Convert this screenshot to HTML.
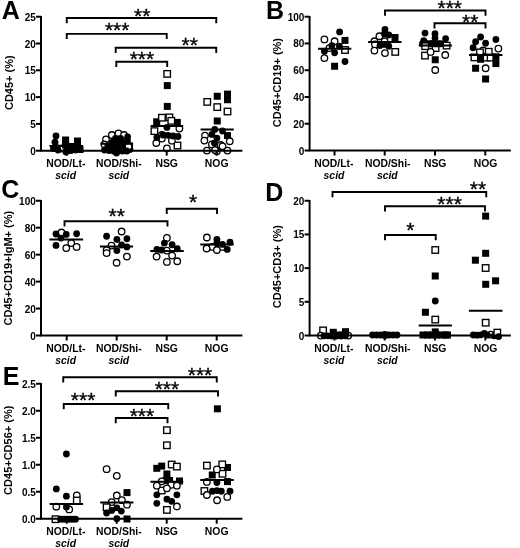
<!DOCTYPE html>
<html><head><meta charset="utf-8"><title>Figure</title>
<style>
html,body{margin:0;padding:0;background:#fff;}
svg{display:block;font-family:"Liberation Sans", Arial, sans-serif;fill:#000;will-change:transform;}
</style></head><body>
<svg width="520" height="548" viewBox="0 0 520 548">
<rect width="520" height="548" fill="#fff"/>
<text x="1.8" y="19.3" font-size="25" font-weight="700">A</text>
<path d="M36.0 150.70H41.0" stroke="#000" stroke-width="2.0"/>
<text x="35.80" y="154.70" font-size="10" font-weight="700" text-anchor="end">0</text>
<path d="M36.0 123.90H41.0" stroke="#000" stroke-width="2.0"/>
<text x="35.80" y="127.90" font-size="10" font-weight="700" text-anchor="end">5</text>
<path d="M36.0 97.10H41.0" stroke="#000" stroke-width="2.0"/>
<text x="35.80" y="101.10" font-size="10" font-weight="700" text-anchor="end">10</text>
<path d="M36.0 70.30H41.0" stroke="#000" stroke-width="2.0"/>
<text x="35.80" y="74.30" font-size="10" font-weight="700" text-anchor="end">15</text>
<path d="M36.0 43.50H41.0" stroke="#000" stroke-width="2.0"/>
<text x="35.80" y="47.50" font-size="10" font-weight="700" text-anchor="end">20</text>
<path d="M36.0 16.70H41.0" stroke="#000" stroke-width="2.0"/>
<text x="35.80" y="20.70" font-size="10" font-weight="700" text-anchor="end">25</text>
<text x="65.80" y="167.2" font-size="10.4" font-weight="700" text-anchor="middle">NOD/Lt-</text>
<text x="65.60" y="179.39999999999998" font-size="10.4" font-weight="700" font-style="italic" text-anchor="middle">scid</text>
<text x="118.80" y="167.2" font-size="10.4" font-weight="700" text-anchor="middle">NOD/Shi-</text>
<text x="118.80" y="179.39999999999998" font-size="10.4" font-weight="700" font-style="italic" text-anchor="middle">scid</text>
<text x="166.70" y="167.2" font-size="10.4" font-weight="700" text-anchor="middle">NSG</text>
<text x="216.70" y="167.2" font-size="10.4" font-weight="700" text-anchor="middle">NOG</text>
<text transform="translate(12.5 82.69999999999999) rotate(-90)" font-size="11" font-weight="700" text-anchor="middle">CD45+ (%)</text>
<path d="M66.75 23.2V18H216.25V23.2" fill="none" stroke="#000" stroke-width="1.9"/>
<text x="142.2" y="23.05" font-size="21" stroke="#000" stroke-width="0.35" text-anchor="middle">**</text>
<path d="M66.75 39.050000000000004V33.85H166.7V39.050000000000004" fill="none" stroke="#000" stroke-width="1.9"/>
<text x="117.2" y="37.15" font-size="21" stroke="#000" stroke-width="0.35" text-anchor="middle">***</text>
<path d="M115.7 52.900000000000006V47.7H216.25V52.900000000000006" fill="none" stroke="#000" stroke-width="1.9"/>
<text x="189.75" y="51.55" font-size="21" stroke="#000" stroke-width="0.35" text-anchor="middle">**</text>
<path d="M116.3 66.9V61.7H167.2V66.9" fill="none" stroke="#000" stroke-width="1.9"/>
<text x="141.9" y="66.25" font-size="21" stroke="#000" stroke-width="0.35" text-anchor="middle">***</text>
<text x="266.1" y="19.3" font-size="25" font-weight="700">B</text>
<path d="M304.6 150.50H309.6" stroke="#000" stroke-width="2.0"/>
<text x="304.40" y="154.50" font-size="10" font-weight="700" text-anchor="end">0</text>
<path d="M304.6 123.74H309.6" stroke="#000" stroke-width="2.0"/>
<text x="304.40" y="127.74" font-size="10" font-weight="700" text-anchor="end">20</text>
<path d="M304.6 96.98H309.6" stroke="#000" stroke-width="2.0"/>
<text x="304.40" y="100.98" font-size="10" font-weight="700" text-anchor="end">40</text>
<path d="M304.6 70.22H309.6" stroke="#000" stroke-width="2.0"/>
<text x="304.40" y="74.22" font-size="10" font-weight="700" text-anchor="end">60</text>
<path d="M304.6 43.46H309.6" stroke="#000" stroke-width="2.0"/>
<text x="304.40" y="47.46" font-size="10" font-weight="700" text-anchor="end">80</text>
<path d="M304.6 16.70H309.6" stroke="#000" stroke-width="2.0"/>
<text x="304.40" y="20.70" font-size="10" font-weight="700" text-anchor="end">100</text>
<text x="333.90" y="167.0" font-size="10.4" font-weight="700" text-anchor="middle">NOD/Lt-</text>
<text x="334.00" y="179.2" font-size="10.4" font-weight="700" font-style="italic" text-anchor="middle">scid</text>
<text x="387.70" y="167.0" font-size="10.4" font-weight="700" text-anchor="middle">NOD/Shi-</text>
<text x="387.30" y="179.2" font-size="10.4" font-weight="700" font-style="italic" text-anchor="middle">scid</text>
<text x="435.20" y="167.0" font-size="10.4" font-weight="700" text-anchor="middle">NSG</text>
<text x="485.50" y="167.0" font-size="10.4" font-weight="700" text-anchor="middle">NOG</text>
<text transform="translate(281 82.6) rotate(-90)" font-size="11" font-weight="700" text-anchor="middle">CD45+CD19+ (%)</text>
<path d="M385 15.7V10.5H485.5V15.7" fill="none" stroke="#000" stroke-width="1.9"/>
<text x="449.75" y="15.30" font-size="21" stroke="#000" stroke-width="0.35" text-anchor="middle">***</text>
<path d="M434.5 28.45V23.25H485.5V28.45" fill="none" stroke="#000" stroke-width="1.9"/>
<text x="470.25" y="28.55" font-size="21" stroke="#000" stroke-width="0.35" text-anchor="middle">**</text>
<text x="1.2" y="198.0" font-size="25" font-weight="700">C</text>
<path d="M36.0 335.50H41.0" stroke="#000" stroke-width="2.0"/>
<text x="35.80" y="339.50" font-size="10" font-weight="700" text-anchor="end">0</text>
<path d="M36.0 308.55H41.0" stroke="#000" stroke-width="2.0"/>
<text x="35.80" y="312.55" font-size="10" font-weight="700" text-anchor="end">20</text>
<path d="M36.0 281.60H41.0" stroke="#000" stroke-width="2.0"/>
<text x="35.80" y="285.60" font-size="10" font-weight="700" text-anchor="end">40</text>
<path d="M36.0 254.65H41.0" stroke="#000" stroke-width="2.0"/>
<text x="35.80" y="258.65" font-size="10" font-weight="700" text-anchor="end">60</text>
<path d="M36.0 227.70H41.0" stroke="#000" stroke-width="2.0"/>
<text x="35.80" y="231.70" font-size="10" font-weight="700" text-anchor="end">80</text>
<path d="M36.0 200.75H41.0" stroke="#000" stroke-width="2.0"/>
<text x="35.80" y="204.75" font-size="10" font-weight="700" text-anchor="end">100</text>
<text x="65.80" y="352.0" font-size="10.4" font-weight="700" text-anchor="middle">NOD/Lt-</text>
<text x="65.60" y="364.2" font-size="10.4" font-weight="700" font-style="italic" text-anchor="middle">scid</text>
<text x="118.80" y="352.0" font-size="10.4" font-weight="700" text-anchor="middle">NOD/Shi-</text>
<text x="118.80" y="364.2" font-size="10.4" font-weight="700" font-style="italic" text-anchor="middle">scid</text>
<text x="166.70" y="352.0" font-size="10.4" font-weight="700" text-anchor="middle">NSG</text>
<text x="216.70" y="352.0" font-size="10.4" font-weight="700" text-anchor="middle">NOG</text>
<text transform="translate(11.5 268.125) rotate(-90)" font-size="11" font-weight="700" text-anchor="middle">CD45+CD19+IgM+ (%)</text>
<path d="M64.5 226.45V221.25H167.5V226.45" fill="none" stroke="#000" stroke-width="1.9"/>
<text x="116.75" y="223.40" font-size="21" stroke="#000" stroke-width="0.35" text-anchor="middle">**</text>
<path d="M166.75 213.95V208.75H217V213.95" fill="none" stroke="#000" stroke-width="1.9"/>
<text x="193.1" y="209.05" font-size="21" stroke="#000" stroke-width="0.35" text-anchor="middle">*</text>
<text x="265.3" y="201" font-size="25" font-weight="700">D</text>
<path d="M304.6 335.50H309.6" stroke="#000" stroke-width="2.0"/>
<text x="304.40" y="339.50" font-size="10" font-weight="700" text-anchor="end">0</text>
<path d="M304.6 301.81H309.6" stroke="#000" stroke-width="2.0"/>
<text x="304.40" y="305.81" font-size="10" font-weight="700" text-anchor="end">5</text>
<path d="M304.6 268.12H309.6" stroke="#000" stroke-width="2.0"/>
<text x="304.40" y="272.12" font-size="10" font-weight="700" text-anchor="end">10</text>
<path d="M304.6 234.44H309.6" stroke="#000" stroke-width="2.0"/>
<text x="304.40" y="238.44" font-size="10" font-weight="700" text-anchor="end">15</text>
<path d="M304.6 200.75H309.6" stroke="#000" stroke-width="2.0"/>
<text x="304.40" y="204.75" font-size="10" font-weight="700" text-anchor="end">20</text>
<text x="333.90" y="352.0" font-size="10.4" font-weight="700" text-anchor="middle">NOD/Lt-</text>
<text x="334.00" y="364.2" font-size="10.4" font-weight="700" font-style="italic" text-anchor="middle">scid</text>
<text x="387.70" y="352.0" font-size="10.4" font-weight="700" text-anchor="middle">NOD/Shi-</text>
<text x="387.30" y="364.2" font-size="10.4" font-weight="700" font-style="italic" text-anchor="middle">scid</text>
<text x="435.20" y="352.0" font-size="10.4" font-weight="700" text-anchor="middle">NSG</text>
<text x="485.50" y="352.0" font-size="10.4" font-weight="700" text-anchor="middle">NOG</text>
<text transform="translate(280.7 266.625) rotate(-90)" font-size="11" font-weight="700" text-anchor="middle">CD45+CD3+ (%)</text>
<path d="M332.5 197.2V192H486.25V197.2" fill="none" stroke="#000" stroke-width="1.9"/>
<text x="477.9" y="196.20" font-size="21" stroke="#000" stroke-width="0.35" text-anchor="middle">**</text>
<path d="M385 211.45V206.25H485V211.45" fill="none" stroke="#000" stroke-width="1.9"/>
<text x="449.6" y="210.55" font-size="21" stroke="#000" stroke-width="0.35" text-anchor="middle">***</text>
<path d="M385 240.2V235H435.75V240.2" fill="none" stroke="#000" stroke-width="1.9"/>
<text x="410.25" y="237.20" font-size="21" stroke="#000" stroke-width="0.35" text-anchor="middle">*</text>
<text x="2.7" y="385" font-size="25" font-weight="700">E</text>
<path d="M36.0 518.75H41.0" stroke="#000" stroke-width="2.0"/>
<text x="35.80" y="522.75" font-size="10" font-weight="700" text-anchor="end">0.0</text>
<path d="M36.0 491.75H41.0" stroke="#000" stroke-width="2.0"/>
<text x="35.80" y="495.75" font-size="10" font-weight="700" text-anchor="end">0.5</text>
<path d="M36.0 464.75H41.0" stroke="#000" stroke-width="2.0"/>
<text x="35.80" y="468.75" font-size="10" font-weight="700" text-anchor="end">1.0</text>
<path d="M36.0 437.75H41.0" stroke="#000" stroke-width="2.0"/>
<text x="35.80" y="441.75" font-size="10" font-weight="700" text-anchor="end">1.5</text>
<path d="M36.0 410.75H41.0" stroke="#000" stroke-width="2.0"/>
<text x="35.80" y="414.75" font-size="10" font-weight="700" text-anchor="end">2.0</text>
<path d="M36.0 383.75H41.0" stroke="#000" stroke-width="2.0"/>
<text x="35.80" y="387.75" font-size="10" font-weight="700" text-anchor="end">2.5</text>
<text x="65.80" y="535.25" font-size="10.4" font-weight="700" text-anchor="middle">NOD/Lt-</text>
<text x="65.60" y="547.45" font-size="10.4" font-weight="700" font-style="italic" text-anchor="middle">scid</text>
<text x="118.80" y="535.25" font-size="10.4" font-weight="700" text-anchor="middle">NOD/Shi-</text>
<text x="118.80" y="547.45" font-size="10.4" font-weight="700" font-style="italic" text-anchor="middle">scid</text>
<text x="166.70" y="535.25" font-size="10.4" font-weight="700" text-anchor="middle">NSG</text>
<text x="216.70" y="535.25" font-size="10.4" font-weight="700" text-anchor="middle">NOG</text>
<text transform="translate(12 450.25) rotate(-90)" font-size="11" font-weight="700" text-anchor="middle">CD45+CD56+ (%)</text>
<path d="M63.25 382.45V377.25H216.75V382.45" fill="none" stroke="#000" stroke-width="1.9"/>
<text x="200" y="382.30" font-size="21" stroke="#000" stroke-width="0.35" text-anchor="middle">***</text>
<path d="M115.75 396.45V391.25H218V396.45" fill="none" stroke="#000" stroke-width="1.9"/>
<text x="166.9" y="396.05" font-size="21" stroke="#000" stroke-width="0.35" text-anchor="middle">***</text>
<path d="M63.75 409.2V404H168.25V409.2" fill="none" stroke="#000" stroke-width="1.9"/>
<text x="83.1" y="406.55" font-size="21" stroke="#000" stroke-width="0.35" text-anchor="middle">***</text>
<path d="M115.75 423.2V418H167.5V423.2" fill="none" stroke="#000" stroke-width="1.9"/>
<text x="141.9" y="422.70" font-size="21" stroke="#000" stroke-width="0.35" text-anchor="middle">***</text>
<circle cx="61.9" cy="148.5" r="3.25" fill="#fff" stroke="#000" stroke-width="1.3"/>
<circle cx="56" cy="136" r="3.4" fill="#000"/>
<circle cx="55" cy="142.2" r="3.4" fill="#000"/>
<circle cx="53.5" cy="148.5" r="3.4" fill="#000"/>
<circle cx="58" cy="150" r="3.4" fill="#000"/>
<circle cx="71" cy="150.5" r="3.4" fill="#000"/>
<circle cx="75.5" cy="150" r="3.4" fill="#000"/>
<rect x="62.10" y="136.50" width="7" height="7" fill="#000"/>
<rect x="62.10" y="141.50" width="7" height="7" fill="#000"/>
<rect x="74.00" y="137.50" width="7" height="7" fill="#000"/>
<rect x="74.00" y="142.50" width="7" height="7" fill="#000"/>
<rect x="63.50" y="147.00" width="7" height="7" fill="#000"/>
<rect x="76.50" y="146.00" width="7" height="7" fill="#000"/>
<rect x="68.00" y="143.00" width="7" height="7" fill="#000"/>
<rect x="52.50" y="144.50" width="7" height="7" fill="#000"/>
<circle cx="66" cy="152" r="3.4" fill="#000"/>
<circle cx="111.9" cy="135" r="3.25" fill="#fff" stroke="#000" stroke-width="1.3"/>
<circle cx="118.5" cy="133.4" r="3.25" fill="#fff" stroke="#000" stroke-width="1.3"/>
<circle cx="124" cy="135" r="3.25" fill="#fff" stroke="#000" stroke-width="1.3"/>
<circle cx="106" cy="139.3" r="3.25" fill="#fff" stroke="#000" stroke-width="1.3"/>
<circle cx="104.5" cy="144.5" r="3.25" fill="#fff" stroke="#000" stroke-width="1.3"/>
<circle cx="115.5" cy="138.5" r="3.4" fill="#000"/>
<circle cx="116.5" cy="141" r="3.4" fill="#000"/>
<circle cx="112" cy="142.5" r="3.4" fill="#000"/>
<circle cx="127.6" cy="136.8" r="3.4" fill="#000"/>
<circle cx="127.5" cy="141" r="3.4" fill="#000"/>
<circle cx="122" cy="142" r="3.4" fill="#000"/>
<circle cx="104.5" cy="150" r="3.4" fill="#000"/>
<circle cx="109" cy="150.5" r="3.4" fill="#000"/>
<circle cx="113.5" cy="151" r="3.4" fill="#000"/>
<circle cx="118" cy="151" r="3.4" fill="#000"/>
<circle cx="122.5" cy="151" r="3.4" fill="#000"/>
<circle cx="127" cy="150.5" r="3.4" fill="#000"/>
<circle cx="130" cy="149.5" r="3.4" fill="#000"/>
<circle cx="120.5" cy="138.5" r="3.4" fill="#000"/>
<rect x="113.00" y="143.00" width="7" height="7" fill="#000"/>
<rect x="104.50" y="143.50" width="7" height="7" fill="#000"/>
<rect x="121.50" y="143.50" width="7" height="7" fill="#000"/>
<rect x="108.50" y="143.50" width="7" height="7" fill="#000"/>
<rect x="117.50" y="143.50" width="7" height="7" fill="#000"/>
<rect x="126.00" y="142.50" width="7" height="7" fill="#000"/>
<circle cx="128.5" cy="146.5" r="3.25" fill="#fff" stroke="#000" stroke-width="1.3"/>
<circle cx="126.8" cy="151" r="3.4" fill="#000"/>
<circle cx="116.5" cy="153" r="3.4" fill="#000"/>
<rect x="163.80" y="82.10" width="7" height="7" fill="#000"/>
<rect x="163.80" y="102.90" width="7" height="7" fill="#000"/>
<rect x="153.20" y="118.30" width="7" height="7" fill="#000"/>
<rect x="173.80" y="118.90" width="7" height="7" fill="#000"/>
<rect x="163.95" y="70.65" width="6.5" height="6.5" fill="#fff" stroke="#000" stroke-width="1.35"/>
<rect x="158.65" y="114.45" width="6.5" height="6.5" fill="#fff" stroke="#000" stroke-width="1.35"/>
<rect x="166.15" y="114.15" width="6.5" height="6.5" fill="#fff" stroke="#000" stroke-width="1.35"/>
<rect x="168.05" y="117.55" width="6.5" height="6.5" fill="#fff" stroke="#000" stroke-width="1.35"/>
<rect x="151.15" y="127.85" width="6.5" height="6.5" fill="#fff" stroke="#000" stroke-width="1.35"/>
<rect x="174.25" y="142.25" width="6.5" height="6.5" fill="#fff" stroke="#000" stroke-width="1.35"/>
<circle cx="179.4" cy="128.6" r="3.25" fill="#fff" stroke="#000" stroke-width="1.3"/>
<circle cx="161.9" cy="134.9" r="3.25" fill="#fff" stroke="#000" stroke-width="1.3"/>
<circle cx="161.9" cy="138.6" r="3.25" fill="#fff" stroke="#000" stroke-width="1.3"/>
<circle cx="156.3" cy="143" r="3.25" fill="#fff" stroke="#000" stroke-width="1.3"/>
<circle cx="171.9" cy="140.7" r="3.25" fill="#fff" stroke="#000" stroke-width="1.3"/>
<circle cx="166.9" cy="148.3" r="3.25" fill="#fff" stroke="#000" stroke-width="1.3"/>
<circle cx="166.9" cy="127.4" r="3.4" fill="#000"/>
<circle cx="163" cy="135" r="3.4" fill="#000"/>
<circle cx="168" cy="135.3" r="3.4" fill="#000"/>
<circle cx="173" cy="136" r="3.4" fill="#000"/>
<circle cx="178" cy="136.5" r="3.4" fill="#000"/>
<circle cx="156.9" cy="137.4" r="3.4" fill="#000"/>
<rect x="213.75" y="92.75" width="7" height="7" fill="#000"/>
<rect x="224.00" y="90.60" width="7" height="7" fill="#000"/>
<rect x="224.00" y="96.25" width="7" height="7" fill="#000"/>
<rect x="213.75" y="117.50" width="7" height="7" fill="#000"/>
<rect x="224.00" y="132.10" width="7" height="7" fill="#000"/>
<rect x="204.00" y="98.65" width="6.5" height="6.5" fill="#fff" stroke="#000" stroke-width="1.35"/>
<rect x="214.00" y="103.85" width="6.5" height="6.5" fill="#fff" stroke="#000" stroke-width="1.35"/>
<rect x="224.25" y="108.25" width="6.5" height="6.5" fill="#fff" stroke="#000" stroke-width="1.35"/>
<circle cx="205" cy="135.6" r="3.25" fill="#fff" stroke="#000" stroke-width="1.3"/>
<circle cx="204.4" cy="140.6" r="3.25" fill="#fff" stroke="#000" stroke-width="1.3"/>
<circle cx="229.75" cy="141.25" r="3.25" fill="#fff" stroke="#000" stroke-width="1.3"/>
<circle cx="211.9" cy="144.4" r="3.25" fill="#fff" stroke="#000" stroke-width="1.3"/>
<circle cx="220.6" cy="145" r="3.25" fill="#fff" stroke="#000" stroke-width="1.3"/>
<circle cx="222.5" cy="146.25" r="3.25" fill="#fff" stroke="#000" stroke-width="1.3"/>
<circle cx="206.9" cy="150.6" r="3.25" fill="#fff" stroke="#000" stroke-width="1.3"/>
<circle cx="216.9" cy="151.25" r="3.25" fill="#fff" stroke="#000" stroke-width="1.3"/>
<circle cx="227.5" cy="150.6" r="3.25" fill="#fff" stroke="#000" stroke-width="1.3"/>
<circle cx="215" cy="150" r="3.25" fill="#fff" stroke="#000" stroke-width="1.3"/>
<circle cx="214.75" cy="129.4" r="3.4" fill="#000"/>
<circle cx="222.5" cy="131" r="3.4" fill="#000"/>
<circle cx="211.9" cy="134.4" r="3.4" fill="#000"/>
<circle cx="216.9" cy="138.1" r="3.4" fill="#000"/>
<circle cx="214.4" cy="143.1" r="3.4" fill="#000"/>
<circle cx="324.4" cy="39.4" r="3.25" fill="#fff" stroke="#000" stroke-width="1.3"/>
<circle cx="334.6" cy="41.25" r="3.25" fill="#fff" stroke="#000" stroke-width="1.3"/>
<circle cx="329.4" cy="48.1" r="3.25" fill="#fff" stroke="#000" stroke-width="1.3"/>
<circle cx="324.4" cy="58.1" r="3.25" fill="#fff" stroke="#000" stroke-width="1.3"/>
<rect x="341.75" y="46.75" width="6.5" height="6.5" fill="#fff" stroke="#000" stroke-width="1.35"/>
<circle cx="339.6" cy="31.9" r="3.4" fill="#000"/>
<circle cx="331.9" cy="45.6" r="3.4" fill="#000"/>
<circle cx="339.4" cy="46.25" r="3.4" fill="#000"/>
<circle cx="324.4" cy="51.25" r="3.4" fill="#000"/>
<circle cx="334.6" cy="52.75" r="3.4" fill="#000"/>
<circle cx="345" cy="61.5" r="3.4" fill="#000"/>
<rect x="341.50" y="36.90" width="7" height="7" fill="#000"/>
<rect x="331.10" y="62.75" width="7" height="7" fill="#000"/>
<circle cx="379.4" cy="36.25" r="3.25" fill="#fff" stroke="#000" stroke-width="1.3"/>
<circle cx="374.4" cy="41.25" r="3.25" fill="#fff" stroke="#000" stroke-width="1.3"/>
<circle cx="384.6" cy="41.25" r="3.25" fill="#fff" stroke="#000" stroke-width="1.3"/>
<circle cx="375" cy="44.4" r="3.25" fill="#fff" stroke="#000" stroke-width="1.3"/>
<circle cx="374.4" cy="50.6" r="3.25" fill="#fff" stroke="#000" stroke-width="1.3"/>
<circle cx="385" cy="53.1" r="3.25" fill="#fff" stroke="#000" stroke-width="1.3"/>
<rect x="392.00" y="48.65" width="6.5" height="6.5" fill="#fff" stroke="#000" stroke-width="1.35"/>
<circle cx="385" cy="29.4" r="3.4" fill="#000"/>
<circle cx="384.4" cy="33.75" r="3.4" fill="#000"/>
<circle cx="388.75" cy="35" r="3.4" fill="#000"/>
<circle cx="380" cy="45.6" r="3.4" fill="#000"/>
<circle cx="388.75" cy="46.25" r="3.4" fill="#000"/>
<circle cx="384.4" cy="44.4" r="3.4" fill="#000"/>
<rect x="391.50" y="34.00" width="7" height="7" fill="#000"/>
<rect x="432.35" y="44.85" width="6.5" height="6.5" fill="#fff" stroke="#000" stroke-width="1.35"/>
<rect x="421.75" y="52.35" width="6.5" height="6.5" fill="#fff" stroke="#000" stroke-width="1.35"/>
<circle cx="430.6" cy="51.9" r="3.25" fill="#fff" stroke="#000" stroke-width="1.3"/>
<circle cx="445.25" cy="55" r="3.25" fill="#fff" stroke="#000" stroke-width="1.3"/>
<circle cx="435.25" cy="70" r="3.25" fill="#fff" stroke="#000" stroke-width="1.3"/>
<circle cx="425" cy="33.1" r="3.4" fill="#000"/>
<circle cx="435" cy="33.75" r="3.4" fill="#000"/>
<circle cx="435" cy="38.1" r="3.4" fill="#000"/>
<circle cx="445.6" cy="38.75" r="3.4" fill="#000"/>
<circle cx="423.75" cy="40.6" r="3.4" fill="#000"/>
<circle cx="422.5" cy="43.75" r="3.4" fill="#000"/>
<circle cx="431.9" cy="43.75" r="3.4" fill="#000"/>
<circle cx="441.25" cy="43.75" r="3.4" fill="#000"/>
<rect x="426.00" y="40.25" width="7" height="7" fill="#000"/>
<rect x="433.40" y="40.25" width="7" height="7" fill="#000"/>
<rect x="431.75" y="56.25" width="7" height="7" fill="#000"/>
<rect x="421.95" y="42.95" width="6.5" height="6.5" fill="#fff" stroke="#000" stroke-width="1.35"/>
<rect x="443.35" y="42.35" width="6.5" height="6.5" fill="#fff" stroke="#000" stroke-width="1.35"/>
<circle cx="498.4" cy="48.6" r="3.25" fill="#fff" stroke="#000" stroke-width="1.3"/>
<circle cx="483.1" cy="50.5" r="3.25" fill="#fff" stroke="#000" stroke-width="1.3"/>
<circle cx="485.6" cy="68.25" r="3.25" fill="#fff" stroke="#000" stroke-width="1.3"/>
<rect x="476.75" y="49.15" width="6.5" height="6.5" fill="#fff" stroke="#000" stroke-width="1.35"/>
<rect x="485.50" y="48.50" width="6.5" height="6.5" fill="#fff" stroke="#000" stroke-width="1.35"/>
<rect x="471.15" y="54.15" width="6.5" height="6.5" fill="#fff" stroke="#000" stroke-width="1.35"/>
<rect x="482.35" y="54.35" width="6.5" height="6.5" fill="#fff" stroke="#000" stroke-width="1.35"/>
<rect x="487.35" y="54.35" width="6.5" height="6.5" fill="#fff" stroke="#000" stroke-width="1.35"/>
<circle cx="480.6" cy="37" r="3.4" fill="#000"/>
<circle cx="475.6" cy="41.75" r="3.4" fill="#000"/>
<circle cx="495.9" cy="39.5" r="3.4" fill="#000"/>
<circle cx="485.6" cy="43.25" r="3.4" fill="#000"/>
<circle cx="473.1" cy="47.75" r="3.4" fill="#000"/>
<rect x="477.10" y="55.75" width="7" height="7" fill="#000"/>
<rect x="492.40" y="53.25" width="7" height="7" fill="#000"/>
<rect x="492.40" y="60.10" width="7" height="7" fill="#000"/>
<rect x="472.10" y="64.75" width="7" height="7" fill="#000"/>
<rect x="482.10" y="75.50" width="7" height="7" fill="#000"/>
<circle cx="61.5" cy="232.5" r="3.25" fill="#fff" stroke="#000" stroke-width="1.3"/>
<circle cx="71.25" cy="243.1" r="3.25" fill="#fff" stroke="#000" stroke-width="1.3"/>
<circle cx="66.25" cy="248.1" r="3.25" fill="#fff" stroke="#000" stroke-width="1.3"/>
<circle cx="76.6" cy="246.9" r="3.25" fill="#fff" stroke="#000" stroke-width="1.3"/>
<circle cx="56" cy="234" r="3.4" fill="#000"/>
<circle cx="66.25" cy="234.4" r="3.4" fill="#000"/>
<circle cx="76.6" cy="233.75" r="3.4" fill="#000"/>
<circle cx="61" cy="238.1" r="3.4" fill="#000"/>
<circle cx="56" cy="245.4" r="3.4" fill="#000"/>
<circle cx="121.6" cy="231.5" r="3.25" fill="#fff" stroke="#000" stroke-width="1.3"/>
<circle cx="111.5" cy="245.6" r="3.25" fill="#fff" stroke="#000" stroke-width="1.3"/>
<circle cx="106.6" cy="250" r="3.25" fill="#fff" stroke="#000" stroke-width="1.3"/>
<circle cx="106.6" cy="253.1" r="3.25" fill="#fff" stroke="#000" stroke-width="1.3"/>
<circle cx="126.9" cy="256.6" r="3.25" fill="#fff" stroke="#000" stroke-width="1.3"/>
<circle cx="116.6" cy="262.75" r="3.25" fill="#fff" stroke="#000" stroke-width="1.3"/>
<circle cx="106.6" cy="236.25" r="3.4" fill="#000"/>
<circle cx="116.9" cy="239.4" r="3.4" fill="#000"/>
<circle cx="126.9" cy="238.75" r="3.4" fill="#000"/>
<circle cx="121.6" cy="245" r="3.4" fill="#000"/>
<circle cx="126.9" cy="246.9" r="3.4" fill="#000"/>
<circle cx="116.9" cy="250.6" r="3.4" fill="#000"/>
<circle cx="166.9" cy="237.9" r="3.25" fill="#fff" stroke="#000" stroke-width="1.3"/>
<circle cx="166.9" cy="250.6" r="3.25" fill="#fff" stroke="#000" stroke-width="1.3"/>
<circle cx="156.6" cy="256.6" r="3.25" fill="#fff" stroke="#000" stroke-width="1.3"/>
<circle cx="172.1" cy="255.6" r="3.25" fill="#fff" stroke="#000" stroke-width="1.3"/>
<circle cx="166.9" cy="261.9" r="3.25" fill="#fff" stroke="#000" stroke-width="1.3"/>
<circle cx="177.25" cy="261.25" r="3.25" fill="#fff" stroke="#000" stroke-width="1.3"/>
<circle cx="164.4" cy="243.1" r="3.4" fill="#000"/>
<circle cx="172.1" cy="244.75" r="3.4" fill="#000"/>
<circle cx="156.9" cy="249.4" r="3.4" fill="#000"/>
<circle cx="161.5" cy="250" r="3.4" fill="#000"/>
<circle cx="177.25" cy="248.75" r="3.4" fill="#000"/>
<circle cx="206.9" cy="237.5" r="3.25" fill="#fff" stroke="#000" stroke-width="1.3"/>
<circle cx="212.5" cy="246.9" r="3.25" fill="#fff" stroke="#000" stroke-width="1.3"/>
<circle cx="221.9" cy="246.9" r="3.25" fill="#fff" stroke="#000" stroke-width="1.3"/>
<circle cx="206.6" cy="248.5" r="3.25" fill="#fff" stroke="#000" stroke-width="1.3"/>
<circle cx="216.9" cy="250" r="3.25" fill="#fff" stroke="#000" stroke-width="1.3"/>
<circle cx="216.9" cy="239.4" r="3.4" fill="#000"/>
<circle cx="230" cy="242.25" r="3.4" fill="#000"/>
<circle cx="216.9" cy="243.1" r="3.4" fill="#000"/>
<circle cx="222.5" cy="244.4" r="3.4" fill="#000"/>
<circle cx="227.25" cy="249.4" r="3.4" fill="#000"/>
<rect x="319.85" y="327.15" width="6.5" height="6.5" fill="#fff" stroke="#000" stroke-width="1.35"/>
<circle cx="320.8" cy="335.6" r="3.25" fill="#fff" stroke="#000" stroke-width="1.3"/>
<circle cx="348.3" cy="335.6" r="3.25" fill="#fff" stroke="#000" stroke-width="1.3"/>
<rect x="342.00" y="328.20" width="7" height="7" fill="#000"/>
<rect x="329.80" y="328.80" width="7" height="7" fill="#000"/>
<rect x="334.50" y="331.50" width="7" height="7" fill="#000"/>
<rect x="339.50" y="331.50" width="7" height="7" fill="#000"/>
<circle cx="324" cy="335.8" r="3.4" fill="#000"/>
<circle cx="328" cy="335.8" r="3.4" fill="#000"/>
<circle cx="332" cy="336" r="3.4" fill="#000"/>
<circle cx="336.5" cy="336" r="3.4" fill="#000"/>
<circle cx="341" cy="336" r="3.4" fill="#000"/>
<circle cx="345.3" cy="335.8" r="3.4" fill="#000"/>
<circle cx="372.5" cy="335" r="3.4" fill="#000"/>
<circle cx="376.5" cy="335" r="3.4" fill="#000"/>
<circle cx="380.5" cy="335" r="3.4" fill="#000"/>
<circle cx="389" cy="335" r="3.4" fill="#000"/>
<circle cx="393" cy="335" r="3.4" fill="#000"/>
<circle cx="397" cy="335" r="3.4" fill="#000"/>
<circle cx="384.8" cy="335" r="3.25" fill="#fff" stroke="#000" stroke-width="1.3"/>
<circle cx="384.8" cy="335" r="3.4" fill="#000"/>
<rect x="432.00" y="246.75" width="6.5" height="6.5" fill="#fff" stroke="#000" stroke-width="1.35"/>
<rect x="432.00" y="316.35" width="6.5" height="6.5" fill="#fff" stroke="#000" stroke-width="1.35"/>
<rect x="431.75" y="272.50" width="7" height="7" fill="#000"/>
<rect x="421.90" y="308.75" width="7" height="7" fill="#000"/>
<rect x="431.75" y="328.40" width="7" height="7" fill="#000"/>
<circle cx="435.25" cy="301" r="3.4" fill="#000"/>
<rect x="419.50" y="331.50" width="7" height="7" fill="#000"/>
<rect x="424.00" y="331.50" width="7" height="7" fill="#000"/>
<rect x="428.50" y="331.50" width="7" height="7" fill="#000"/>
<rect x="433.00" y="331.50" width="7" height="7" fill="#000"/>
<rect x="437.50" y="331.50" width="7" height="7" fill="#000"/>
<rect x="442.00" y="331.50" width="7" height="7" fill="#000"/>
<rect x="444.00" y="331.50" width="7" height="7" fill="#000"/>
<rect x="482.15" y="212.60" width="7" height="7" fill="#000"/>
<rect x="482.15" y="249.80" width="7" height="7" fill="#000"/>
<rect x="471.90" y="256.70" width="7" height="7" fill="#000"/>
<rect x="492.10" y="277.30" width="7" height="7" fill="#000"/>
<rect x="482.20" y="280.80" width="7" height="7" fill="#000"/>
<rect x="482.40" y="264.75" width="6.5" height="6.5" fill="#fff" stroke="#000" stroke-width="1.35"/>
<rect x="482.45" y="319.45" width="6.5" height="6.5" fill="#fff" stroke="#000" stroke-width="1.35"/>
<circle cx="490.8" cy="334.6" r="3.25" fill="#fff" stroke="#000" stroke-width="1.3"/>
<circle cx="473.3" cy="335" r="3.4" fill="#000"/>
<circle cx="477.3" cy="335.2" r="3.4" fill="#000"/>
<circle cx="481" cy="334.8" r="3.4" fill="#000"/>
<circle cx="484.4" cy="333.4" r="3.4" fill="#000"/>
<circle cx="487.3" cy="335.2" r="3.4" fill="#000"/>
<circle cx="494.3" cy="335.8" r="3.4" fill="#000"/>
<rect x="494.05" y="329.35" width="6.5" height="6.5" fill="#fff" stroke="#000" stroke-width="1.35"/>
<circle cx="498.6" cy="336.6" r="3.4" fill="#000"/>
<circle cx="76.8" cy="495.4" r="3.25" fill="#fff" stroke="#000" stroke-width="1.3"/>
<circle cx="56.3" cy="506.7" r="3.25" fill="#fff" stroke="#000" stroke-width="1.3"/>
<circle cx="69.2" cy="509.4" r="3.25" fill="#fff" stroke="#000" stroke-width="1.3"/>
<rect x="73.55" y="497.25" width="6.5" height="6.5" fill="#fff" stroke="#000" stroke-width="1.35"/>
<rect x="52.25" y="515.95" width="6.5" height="6.5" fill="#fff" stroke="#000" stroke-width="1.35"/>
<circle cx="66.4" cy="454" r="3.4" fill="#000"/>
<circle cx="56.3" cy="488.9" r="3.4" fill="#000"/>
<circle cx="66.4" cy="496.2" r="3.4" fill="#000"/>
<circle cx="66.4" cy="507.1" r="3.4" fill="#000"/>
<circle cx="60.5" cy="519.2" r="3.4" fill="#000"/>
<circle cx="63" cy="519.2" r="3.4" fill="#000"/>
<circle cx="65.5" cy="519.2" r="3.4" fill="#000"/>
<circle cx="68" cy="519.2" r="3.4" fill="#000"/>
<circle cx="70.5" cy="519.2" r="3.4" fill="#000"/>
<circle cx="73" cy="519.2" r="3.4" fill="#000"/>
<circle cx="75.5" cy="519.2" r="3.4" fill="#000"/>
<circle cx="106.6" cy="469.2" r="3.25" fill="#fff" stroke="#000" stroke-width="1.3"/>
<circle cx="116.8" cy="475.8" r="3.25" fill="#fff" stroke="#000" stroke-width="1.3"/>
<circle cx="116.8" cy="495.5" r="3.25" fill="#fff" stroke="#000" stroke-width="1.3"/>
<circle cx="121.9" cy="500.2" r="3.25" fill="#fff" stroke="#000" stroke-width="1.3"/>
<circle cx="111.7" cy="502.1" r="3.25" fill="#fff" stroke="#000" stroke-width="1.3"/>
<circle cx="127" cy="504.7" r="3.25" fill="#fff" stroke="#000" stroke-width="1.3"/>
<rect x="103.35" y="504.05" width="6.5" height="6.5" fill="#fff" stroke="#000" stroke-width="1.35"/>
<rect x="123.50" y="489.10" width="7" height="7" fill="#000"/>
<rect x="123.50" y="515.50" width="7" height="7" fill="#000"/>
<circle cx="116.8" cy="507.9" r="3.4" fill="#000"/>
<circle cx="111.7" cy="510.4" r="3.4" fill="#000"/>
<circle cx="121.3" cy="511.1" r="3.4" fill="#000"/>
<circle cx="106.6" cy="513" r="3.4" fill="#000"/>
<circle cx="116.8" cy="518.7" r="3.4" fill="#000"/>
<rect x="163.65" y="426.95" width="6.5" height="6.5" fill="#fff" stroke="#000" stroke-width="1.35"/>
<rect x="163.65" y="442.05" width="6.5" height="6.5" fill="#fff" stroke="#000" stroke-width="1.35"/>
<rect x="168.45" y="461.25" width="6.5" height="6.5" fill="#fff" stroke="#000" stroke-width="1.35"/>
<rect x="173.65" y="463.35" width="6.5" height="6.5" fill="#fff" stroke="#000" stroke-width="1.35"/>
<rect x="158.45" y="487.25" width="6.5" height="6.5" fill="#fff" stroke="#000" stroke-width="1.35"/>
<rect x="163.65" y="506.65" width="6.5" height="6.5" fill="#fff" stroke="#000" stroke-width="1.35"/>
<rect x="158.20" y="462.60" width="7" height="7" fill="#000"/>
<rect x="153.30" y="464.80" width="7" height="7" fill="#000"/>
<rect x="163.40" y="470.50" width="7" height="7" fill="#000"/>
<rect x="176.00" y="477.50" width="7" height="7" fill="#000"/>
<rect x="162.50" y="477.00" width="7" height="7" fill="#000"/>
<rect x="166.00" y="477.00" width="7" height="7" fill="#000"/>
<circle cx="161.7" cy="481.3" r="3.25" fill="#fff" stroke="#000" stroke-width="1.3"/>
<circle cx="156.8" cy="485.7" r="3.25" fill="#fff" stroke="#000" stroke-width="1.3"/>
<circle cx="171.2" cy="484.8" r="3.25" fill="#fff" stroke="#000" stroke-width="1.3"/>
<circle cx="176.9" cy="485.7" r="3.25" fill="#fff" stroke="#000" stroke-width="1.3"/>
<circle cx="166.9" cy="488.3" r="3.25" fill="#fff" stroke="#000" stroke-width="1.3"/>
<circle cx="176.9" cy="506.5" r="3.25" fill="#fff" stroke="#000" stroke-width="1.3"/>
<circle cx="156.8" cy="494.8" r="3.4" fill="#000"/>
<circle cx="176.9" cy="494.8" r="3.4" fill="#000"/>
<circle cx="166.9" cy="499.2" r="3.4" fill="#000"/>
<circle cx="171.7" cy="501.3" r="3.4" fill="#000"/>
<circle cx="156.8" cy="503.3" r="3.4" fill="#000"/>
<rect x="213.90" y="405.30" width="7" height="7" fill="#000"/>
<rect x="224.00" y="464.00" width="7" height="7" fill="#000"/>
<rect x="208.75" y="471.50" width="7" height="7" fill="#000"/>
<rect x="224.00" y="478.10" width="7" height="7" fill="#000"/>
<rect x="203.65" y="462.35" width="6.5" height="6.5" fill="#fff" stroke="#000" stroke-width="1.35"/>
<rect x="219.00" y="461.15" width="6.5" height="6.5" fill="#fff" stroke="#000" stroke-width="1.35"/>
<rect x="219.25" y="470.50" width="6.5" height="6.5" fill="#fff" stroke="#000" stroke-width="1.35"/>
<rect x="201.15" y="487.75" width="6.5" height="6.5" fill="#fff" stroke="#000" stroke-width="1.35"/>
<circle cx="216.9" cy="469.4" r="3.25" fill="#fff" stroke="#000" stroke-width="1.3"/>
<circle cx="206.9" cy="481.9" r="3.25" fill="#fff" stroke="#000" stroke-width="1.3"/>
<circle cx="206.9" cy="495" r="3.25" fill="#fff" stroke="#000" stroke-width="1.3"/>
<circle cx="227.25" cy="496.9" r="3.25" fill="#fff" stroke="#000" stroke-width="1.3"/>
<circle cx="217.1" cy="500.25" r="3.25" fill="#fff" stroke="#000" stroke-width="1.3"/>
<circle cx="216.9" cy="482.5" r="3.4" fill="#000"/>
<circle cx="212.5" cy="491.25" r="3.4" fill="#000"/>
<circle cx="216.9" cy="490.6" r="3.4" fill="#000"/>
<circle cx="221.25" cy="491.25" r="3.4" fill="#000"/>
<circle cx="230" cy="491.25" r="3.4" fill="#000"/>
<path d="M41.0 15.95V150.7H242.4" fill="none" stroke="#000" stroke-width="2.0" stroke-linejoin="miter"/>
<path d="M66.7 150.7V155.7" stroke="#000" stroke-width="2.0"/>
<path d="M116.7 150.7V155.7" stroke="#000" stroke-width="2.0"/>
<path d="M166.7 150.7V155.7" stroke="#000" stroke-width="2.0"/>
<path d="M216.7 150.7V155.7" stroke="#000" stroke-width="2.0"/>
<path d="M309.6 15.95V150.5H510.8" fill="none" stroke="#000" stroke-width="2.0" stroke-linejoin="miter"/>
<path d="M334.5 150.5V155.5" stroke="#000" stroke-width="2.0"/>
<path d="M384.7 150.5V155.5" stroke="#000" stroke-width="2.0"/>
<path d="M435 150.5V155.5" stroke="#000" stroke-width="2.0"/>
<path d="M485.3 150.5V155.5" stroke="#000" stroke-width="2.0"/>
<path d="M41.0 200.0V335.5H242.4" fill="none" stroke="#000" stroke-width="2.0" stroke-linejoin="miter"/>
<path d="M66.7 335.5V340.5" stroke="#000" stroke-width="2.0"/>
<path d="M116.7 335.5V340.5" stroke="#000" stroke-width="2.0"/>
<path d="M166.7 335.5V340.5" stroke="#000" stroke-width="2.0"/>
<path d="M216.7 335.5V340.5" stroke="#000" stroke-width="2.0"/>
<path d="M309.6 200.0V335.5H510.8" fill="none" stroke="#000" stroke-width="2.0" stroke-linejoin="miter"/>
<path d="M334.5 335.5V340.5" stroke="#000" stroke-width="2.0"/>
<path d="M384.7 335.5V340.5" stroke="#000" stroke-width="2.0"/>
<path d="M435 335.5V340.5" stroke="#000" stroke-width="2.0"/>
<path d="M485.3 335.5V340.5" stroke="#000" stroke-width="2.0"/>
<path d="M41.0 383.0V518.75H242.4" fill="none" stroke="#000" stroke-width="2.0" stroke-linejoin="miter"/>
<path d="M66.7 518.75V523.75" stroke="#000" stroke-width="2.0"/>
<path d="M116.7 518.75V523.75" stroke="#000" stroke-width="2.0"/>
<path d="M166.7 518.75V523.75" stroke="#000" stroke-width="2.0"/>
<path d="M216.7 518.75V523.75" stroke="#000" stroke-width="2.0"/>
<path d="M49.45 145.9H83.05" stroke="#000" stroke-width="2.0"/>
<path d="M100.50 143.7H133.10" stroke="#000" stroke-width="2.0"/>
<path d="M150.60 126.1H183.20" stroke="#000" stroke-width="2.0"/>
<path d="M200.60 129.6H233.80" stroke="#000" stroke-width="2.0"/>
<path d="M318.10 48.75H351.30" stroke="#000" stroke-width="2.0"/>
<path d="M368.10 41.9H401.50" stroke="#000" stroke-width="2.0"/>
<path d="M418.70 45.6H451.90" stroke="#000" stroke-width="2.0"/>
<path d="M469.00 54.9H502.50" stroke="#000" stroke-width="2.0"/>
<path d="M49.40 239.6H83.10" stroke="#000" stroke-width="2.0"/>
<path d="M99.90 246.5H133.10" stroke="#000" stroke-width="2.0"/>
<path d="M150.25 251H183.75" stroke="#000" stroke-width="2.0"/>
<path d="M200.25 244.6H233.75" stroke="#000" stroke-width="2.0"/>
<path d="M418.70 325.4H451.90" stroke="#000" stroke-width="2.0"/>
<path d="M468.90 310.7H502.50" stroke="#000" stroke-width="2.0"/>
<path d="M49.60 503.95H83.10" stroke="#000" stroke-width="2.0"/>
<path d="M100.20 502.4H133.40" stroke="#000" stroke-width="2.0"/>
<path d="M150.40 481.7H183.30" stroke="#000" stroke-width="2.0"/>
<path d="M200.25 480H233.75" stroke="#000" stroke-width="2.0"/>
</svg>
</body></html>
